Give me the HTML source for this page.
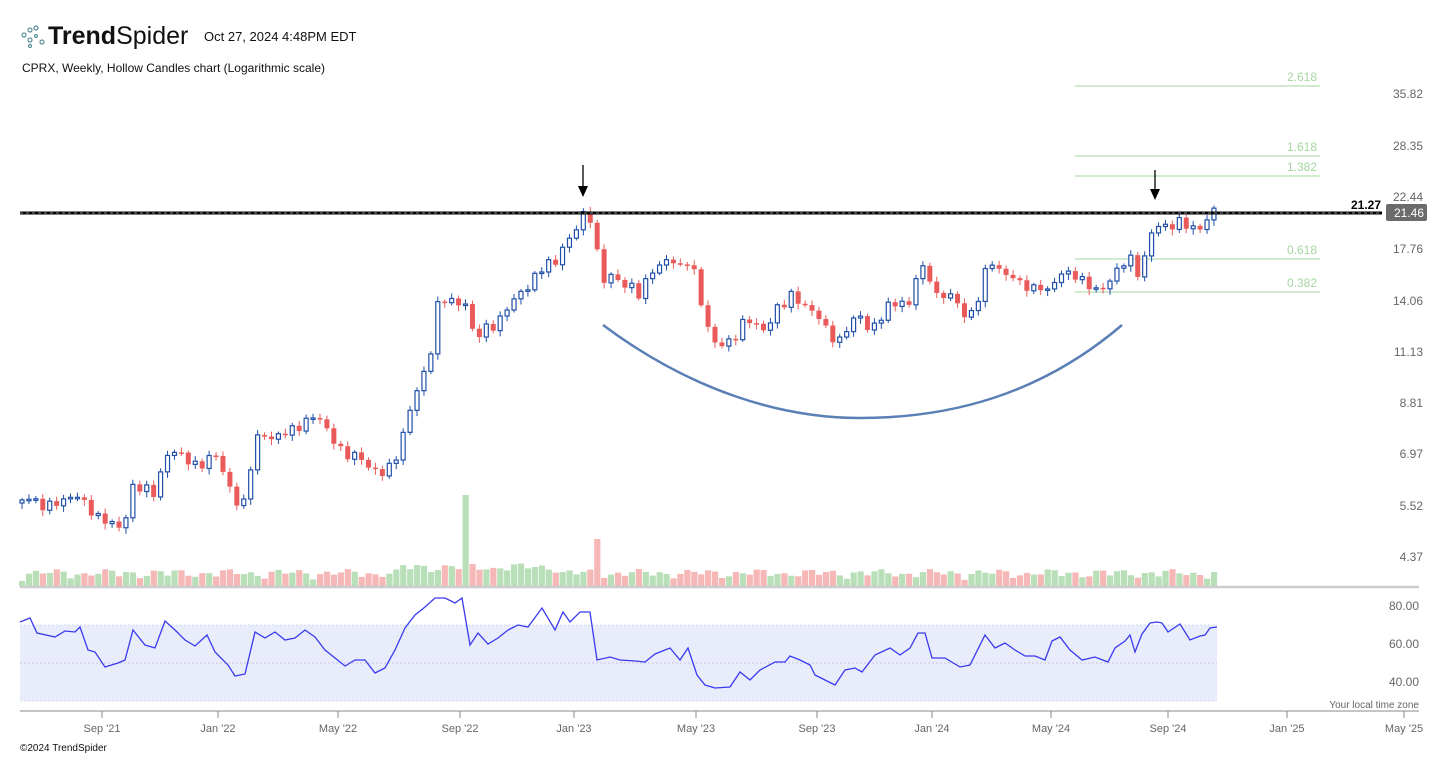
<!DOCTYPE html>
<html><head><meta charset="utf-8"><style>
body{margin:0;background:#fff;width:1449px;height:757px;overflow:hidden;font-family:"Liberation Sans",sans-serif}
svg{position:absolute;left:0;top:0}
</style></head><body>
<svg id="s" width="1449" height="757" xmlns="http://www.w3.org/2000/svg" font-family="Liberation Sans, sans-serif">
<g fill="none" stroke="#5a8f9a" stroke-width="1.2">
<circle cx="24" cy="35" r="2"/><circle cx="30" cy="30" r="2"/><circle cx="36" cy="28" r="2"/><circle cx="30" cy="40" r="2"/><circle cx="36" cy="36" r="1.5"/><circle cx="42" cy="42" r="2"/><circle cx="30" cy="46" r="1.5"/>
</g>
<text x="48" y="44" font-size="25" fill="#111"><tspan font-weight="bold">Trend</tspan>Spider</text>
<text x="204" y="41" font-size="13" fill="#111">Oct 27, 2024 4:48PM EDT</text>
<text x="22" y="72" font-size="12" fill="#111">CPRX, Weekly, Hollow Candles chart (Logarithmic scale)</text>
<g font-size="12" fill="#666" text-anchor="end">
<text x="1423" y="98">35.82</text><text x="1423" y="150">28.35</text><text x="1423" y="201">22.44</text><text x="1423" y="253">17.76</text><text x="1423" y="305">14.06</text><text x="1423" y="356">11.13</text><text x="1423" y="407">8.81</text><text x="1423" y="458">6.97</text><text x="1423" y="510">5.52</text><text x="1423" y="561">4.37</text>
<text x="1419" y="610">80.00</text><text x="1419" y="648">60.00</text><text x="1419" y="686">40.00</text>
</g>
<g stroke="#a6d6a0" stroke-width="1"><line x1="1075" x2="1320" y1="86" y2="86"/><line x1="1075" x2="1320" y1="156" y2="156"/><line x1="1075" x2="1320" y1="176" y2="176"/><line x1="1075" x2="1320" y1="259" y2="259"/><line x1="1075" x2="1320" y1="292" y2="292"/></g>
<g font-size="12" fill="#a6d6a0" text-anchor="end"><text x="1317" y="81">2.618</text><text x="1317" y="151">1.618</text><text x="1317" y="171">1.382</text><text x="1317" y="254">0.618</text><text x="1317" y="287">0.382</text></g>
<rect x="20" y="625" width="1197" height="76" fill="#e9ecfa"/>
<line x1="20" x2="1217" y1="625" y2="625" stroke="#d8dbef" stroke-dasharray="2,2"/>
<line x1="20" x2="1217" y1="663" y2="663" stroke="#c9c3e6" stroke-dasharray="2,2"/>
<line x1="20" x2="1217" y1="701" y2="701" stroke="#d8dbef" stroke-dasharray="2,2"/>
<g id="vol"></g>
<line x1="20" x2="1419" y1="587" y2="587" stroke="#cccccc" stroke-width="2.5"/>
<g id="cnd"></g>
<polyline id="rsi" fill="none" stroke="#3a3af0" stroke-width="1.3"/>
<path d="M603,325 C690,390 780,418 860,418 C950,418 1040,395 1122,325" fill="none" stroke="#5a7fb5" stroke-width="2.5"/>
<line x1="20" x2="1382" y1="213" y2="213" stroke="#000" stroke-width="3"/>
<line x1="20" x2="1382" y1="213" y2="213" stroke="#888" stroke-width="1" stroke-dasharray="3,3"/>
<text x="1381" y="209" font-size="12" font-weight="bold" fill="#000" text-anchor="end">21.27</text>
<rect x="1386" y="204" width="41" height="17" rx="2" fill="#6b6b6b"/>
<text x="1424" y="217" font-size="12" fill="#fff" text-anchor="end">21.46</text>
<line x1="583" x2="583" y1="165" y2="190" stroke="#000" stroke-width="1.3"/><polygon points="578,186 588,186 583,197" fill="#000"/>
<line x1="1155" x2="1155" y1="170" y2="193" stroke="#000" stroke-width="1.3"/><polygon points="1150,189 1160,189 1155,200" fill="#000"/>
<line x1="20" x2="1419" y1="711" y2="711" stroke="#888"/>
<g stroke="#888"><line x1="102" x2="102" y1="711" y2="718"/><line x1="218" x2="218" y1="711" y2="718"/><line x1="338" x2="338" y1="711" y2="718"/><line x1="460" x2="460" y1="711" y2="718"/><line x1="574" x2="574" y1="711" y2="718"/><line x1="696" x2="696" y1="711" y2="718"/><line x1="817" x2="817" y1="711" y2="718"/><line x1="932" x2="932" y1="711" y2="718"/><line x1="1051" x2="1051" y1="711" y2="718"/><line x1="1168" x2="1168" y1="711" y2="718"/><line x1="1287" x2="1287" y1="711" y2="718"/><line x1="1404" x2="1404" y1="711" y2="718"/></g>
<g font-size="11" fill="#666" text-anchor="middle">
<text x="102" y="732">Sep '21</text><text x="218" y="732">Jan '22</text><text x="338" y="732">May '22</text><text x="460" y="732">Sep '22</text><text x="574" y="732">Jan '23</text><text x="696" y="732">May '23</text><text x="817" y="732">Sep '23</text><text x="932" y="732">Jan '24</text><text x="1051" y="732">May '24</text><text x="1168" y="732">Sep '24</text><text x="1287" y="732">Jan '25</text><text x="1404" y="732">May '25</text>
</g>
<text x="1419" y="708" font-size="10" fill="#666" text-anchor="end">Your local time zone</text>
<text x="20" y="751" font-size="10" fill="#111">©2024 TrendSpider</text>
</svg>
<script>
(function(){
var K=[22,500,30,495,45,510,60,500,75,495,90,510,105,520,118,530,125,520,132,485,145,490,155,495,165,455,172,450,185,460,200,465,215,455,225,475,235,500,245,505,255,440,262,432,275,440,290,430,300,425,310,418,320,420,335,440,345,458,360,455,372,470,382,475,392,465,400,445,410,410,420,385,430,355,437,305,445,300,455,305,465,300,475,340,485,330,495,325,505,310,515,300,525,290,535,275,545,265,555,265,563,245,572,235,578,225,585,215,590,218,597,250,603,280,610,275,620,285,632,285,640,295,650,275,660,265,670,255,680,270,690,260,697,280,705,320,715,345,725,345,735,335,745,320,755,325,765,330,775,310,785,305,790,295,800,300,810,310,820,320,830,335,840,340,850,325,860,315,870,330,880,320,890,305,900,300,910,305,918,270,928,270,935,295,945,295,955,300,965,315,975,310,985,275,992,262,1000,270,1010,275,1020,285,1030,288,1040,285,1050,295,1058,275,1065,270,1075,275,1085,285,1095,290,1105,285,1115,275,1125,262,1135,255,1140,285,1148,240,1155,228,1163,225,1170,225,1180,222,1190,230,1197,228,1203,225,1210,213,1217,210];
function interp(A,x){for(var i=0;i<A.length-2;i+=2){if(x<=A[i+2]){var t=(x-A[i])/(A[i+2]-A[i]);return A[i+1]+t*(A[i+3]-A[i+1]);}}return A[A.length-1];}
var c="",v="";
var prev=interp(K,22)+3;
for(var i=0;i<173;i++){var x=22+i*6.93;if(x>1218)break;
var cl=interp(K,x)+4*Math.sin(i*2.7)+2*Math.sin(i*1.3);
var op=prev;var hi=Math.min(op,cl)-2-3*Math.abs(Math.sin(i*1.7));var lo=Math.max(op,cl)+2+4*Math.abs(Math.cos(i*2.1));
var up=cl<op;var col=up?"#1f4fa8":"#ea5a5a";var bt=Math.min(op,cl),bh=Math.max(Math.abs(op-cl),1.5);
c+='<line x1="'+x+'" x2="'+x+'" y1="'+hi+'" y2="'+lo+'" stroke="'+col+'" stroke-width="1"/>';
c+=up?'<rect x="'+(x-2)+'" y="'+bt+'" width="4" height="'+bh+'" fill="#fff" stroke="'+col+'" stroke-width="1.2"/>':'<rect x="'+(x-2.5)+'" y="'+bt+'" width="5" height="'+bh+'" fill="'+col+'"/>';
var vh=5+7*Math.abs(Math.sin(i*0.9))+5*Math.abs(Math.sin(i*0.37));if(x>400&&x<560)vh+=6;
if(Math.abs(x-467)<3.5)vh=91;if(Math.abs(x-596)<3.5)vh=47;
v+='<rect x="'+(x-3)+'" y="'+(586-vh)+'" width="6.2" height="'+vh+'" fill="'+(up?"#b9dfb9":"#f6b7b7")+'"/>';
prev=cl;}
document.getElementById("cnd").innerHTML=c;document.getElementById("vol").innerHTML=v;
var R=[20,622,30,618,37,633,55,637,65,631,75,632,80,627,88,650,95,652,105,667,118,663,125,660,133,630,145,645,155,648,165,621,175,630,185,640,195,646,207,635,215,652,228,665,235,676,245,674,255,632,265,638,275,632,285,640,295,638,305,630,315,637,325,650,335,658,345,666,355,660,365,660,375,673,385,668,395,650,405,628,415,615,425,607,435,598,445,598,455,603,462,598,470,645,478,633,488,644,498,638,508,630,518,625,528,627,542,608,555,630,563,612,570,622,580,612,590,612,597,660,610,657,620,660,635,661,645,662,655,654,670,648,680,660,688,648,697,675,705,685,715,688,730,687,740,672,750,680,760,670,775,662,785,662,790,656,800,660,810,665,815,675,825,680,835,685,845,670,855,668,862,672,875,655,890,648,900,655,910,648,918,633,925,633,932,658,945,658,960,667,970,665,985,635,995,648,1005,643,1015,650,1025,656,1035,656,1045,660,1052,641,1060,637,1070,650,1082,660,1095,657,1108,662,1115,648,1125,641,1130,635,1135,652,1142,634,1150,623,1157,622,1162,623,1168,632,1180,624,1190,640,1200,636,1205,635,1210,628,1217,627];
var p="";for(var j=0;j<R.length;j+=2)p+=R[j]+","+R[j+1]+" ";document.getElementById("rsi").setAttribute("points",p);
})();
</script>
</body></html>
